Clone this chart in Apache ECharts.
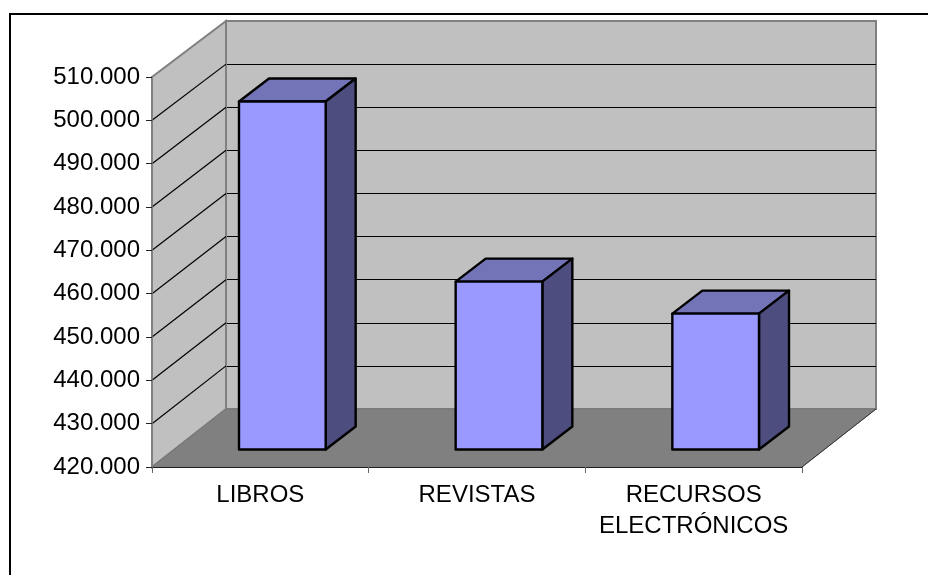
<!DOCTYPE html>
<html>
<head>
<meta charset="utf-8">
<style>html,body{margin:0;padding:0;background:#fff}#c{width:928px;height:575px}</style>
<script src="https://cdn.jsdelivr.net/npm/echarts@6/dist/echarts.min.js"></script>
</head>
<body>
<div id="c"></div>
<script>
const categories = ['LIBROS', 'REVISTAS', 'RECURSOS\nELECTRÓNICOS'];
const values = [500400, 458800, 451400];
const axisMin = 420000;
const axisMax = 510000;
const axisStep = 10000;
const tickValues = [420000, 430000, 440000, 450000, 460000, 470000, 480000, 490000, 500000, 510000];

const FRONT = {left: 152, top: 77, width: 650, height: 390};
const BACK = {left: 226, top: 21, width: 650, height: 388};
const BARS = {left: 174, top: 60, width: 650, height: 389.5};
const BAR_RATIO = 0.4, BAR_DX = 30, BAR_DY = -23;
const FONT = '"Liberation Sans", Arial, sans-serif';

const chart = echarts.init(document.getElementById('c'), null, {renderer: 'canvas'});

const backY = v => chart.convertToPixel({gridIndex: 1}, [0, v])[1];

function renderShell(params, api) {
  const kind = api.value(0);
  const cs = params.coordSys;
  const fy = v => api.coord([0, v])[1];
  const fl = cs.x, fr = cs.x + cs.width;
  const bl = BACK.left, br = BACK.left + BACK.width;
  if (kind === 0) {
    return {type: 'polygon', shape: {points: [[fl, fy(axisMin)], [fl, fy(axisMax)], [bl, backY(axisMax)], [bl, backY(axisMin)]]},
      style: {fill: '#C0C0C0', stroke: '#808080', lineWidth: 2}};
  }
  return {type: 'group', children: [
    {type: 'polygon', shape: {points: [[fl, fy(axisMin)], [fr, fy(axisMin)], [br, backY(axisMin)], [bl, backY(axisMin)]]},
      style: {fill: '#808080', stroke: '#777777', lineWidth: 1}},
    {type: 'line', shape: {x1: fr, y1: fy(axisMin), x2: br, y2: backY(axisMin)}, style: {stroke: '#333333', lineWidth: 1}}
  ]};
}

function renderSideLine(params, api) {
  const v = api.value(0);
  return {type: 'line', shape: {x1: params.coordSys.x, y1: api.coord([0, v])[1], x2: BACK.left, y2: backY(v)},
    style: {stroke: '#000', lineWidth: 1.2}};
}

function renderBar(params, api) {
  const top = api.coord([api.value(0), api.value(1)]);
  const base = api.coord([api.value(0), axisMin]);
  const w = api.size([1, 0])[0] * BAR_RATIO;
  const l = top[0] - w / 2, r = top[0] + w / 2;
  const stroke = {stroke: '#000', lineWidth: 2.4, lineJoin: 'round'};
  return {type: 'group', children: [
    {type: 'polygon', shape: {points: [[l, top[1]], [r, top[1]], [r + BAR_DX, top[1] + BAR_DY], [l + BAR_DX, top[1] + BAR_DY]]},
      style: Object.assign({fill: '#7373B8'}, stroke)},
    {type: 'polygon', shape: {points: [[r, top[1]], [r + BAR_DX, top[1] + BAR_DY], [r + BAR_DX, base[1] + BAR_DY], [r, base[1]]]},
      style: Object.assign({fill: '#4D4D80'}, stroke)},
    {type: 'rect', shape: {x: l, y: top[1], width: w, height: base[1] - top[1]},
      style: Object.assign({fill: '#9999FF'}, stroke)}
  ]};
}

const yBase = {type: 'value', min: axisMin, max: axisMax, interval: axisStep};

chart.setOption({
  animation: false,
  backgroundColor: '#fff',
  graphic: [{type: 'rect', x: 10, y: 14, shape: {x: 0, y: 0, width: 1000, height: 1000}, silent: true,
    style: {fill: 'none', stroke: '#000', lineWidth: 2}}],
  grid: [
    Object.assign({show: false}, FRONT),
    Object.assign({show: true, backgroundColor: '#C0C0C0', borderColor: '#808080', borderWidth: 2}, BACK),
    Object.assign({show: false}, BARS)
  ],
  xAxis: [
    {type: 'category', gridIndex: 0, data: categories, z: 6,
      axisLine: {show: true, lineStyle: {color: '#222', width: 1}},
      axisTick: {show: true, alignWithLabel: false, length: 6, lineStyle: {color: '#666', width: 1}},
      axisLabel: {color: '#000', fontFamily: FONT, fontSize: 24, lineHeight: 31, margin: 13, interval: 0}},
    {type: 'category', gridIndex: 1, data: categories, show: false},
    {type: 'category', gridIndex: 2, data: categories, show: false}
  ],
  yAxis: [
    Object.assign({}, yBase, {gridIndex: 0, z: 6,
      axisLine: {show: true, lineStyle: {color: '#808080', width: 1.5}},
      axisTick: {show: true, length: 6, lineStyle: {color: '#222', width: 1}},
      splitLine: {show: false},
      axisLabel: {color: '#000', fontFamily: FONT, fontSize: 24, margin: 12,
        formatter: v => String(v / 1000) + '.000'}}),
    Object.assign({}, yBase, {gridIndex: 1,
      axisLine: {show: false}, axisTick: {show: false}, axisLabel: {show: false},
      splitLine: {show: true, showMinLine: false, showMaxLine: false, lineStyle: {color: '#000', width: 1}}}),
    Object.assign({}, yBase, {gridIndex: 2, show: false, splitLine: {show: false}})
  ],
  series: [
    {type: 'custom', xAxisIndex: 0, yAxisIndex: 0, z: 2, silent: true, renderItem: renderShell,
      encode: {x: -1, y: -1}, data: [[0], [1]], clip: false},
    {type: 'custom', xAxisIndex: 0, yAxisIndex: 0, z: 3, silent: true, renderItem: renderSideLine,
      encode: {x: -1, y: -1}, data: tickValues.slice(1, -1).map(v => [v]), clip: false},
    {type: 'custom', xAxisIndex: 2, yAxisIndex: 2, z: 8, silent: true, renderItem: renderBar,
      encode: {x: 0, y: 1}, data: values.map((v, i) => [i, v]), clip: false}
  ]
});
</script>
</body>
</html>
